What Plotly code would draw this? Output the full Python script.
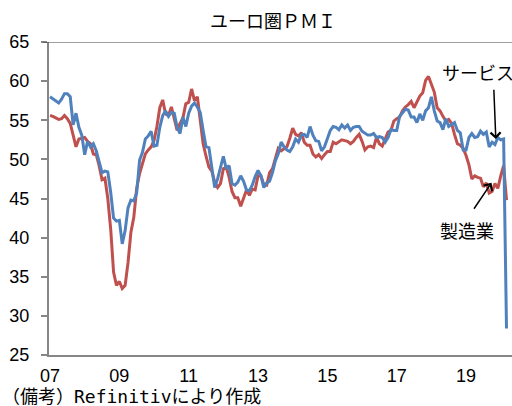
import plotly.graph_objects as go

# Monthly Euro area PMI, Jan 2007 - Mar 2020
manufacturing = [
    55.6, 55.5, 55.3, 55.1, 55.2, 55.6, 55.2, 54.6, 53.1, 51.6, 52.6, 52.7,  # 2007
    52.8, 52.3, 52.0, 50.7, 50.6, 49.2, 47.4, 47.6, 45.0, 41.1, 35.6, 33.9,  # 2008
    34.4, 33.5, 33.9, 36.8, 40.7, 42.6, 46.3, 48.2, 49.3, 50.7, 51.2, 51.6,  # 2009
    52.4, 54.2, 56.6, 57.6, 55.8, 55.6, 56.7, 55.1, 53.7, 54.6, 55.3, 57.1,  # 2010
    57.3, 59.0, 57.5, 58.0, 54.6, 52.0, 50.4, 49.0, 48.5, 47.1, 46.4, 46.9,  # 2011
    48.8, 49.0, 47.7, 45.9, 45.1, 45.1, 44.0, 45.1, 46.1, 45.4, 46.2, 46.1,  # 2012
    47.9, 47.9, 46.8, 46.7, 48.3, 48.8, 50.3, 51.4, 51.1, 51.3, 51.6, 52.7,  # 2013
    54.0, 53.2, 53.0, 53.4, 52.2, 51.8, 51.8, 50.7, 50.3, 50.6, 50.1, 50.6,  # 2014
    51.0, 51.0, 52.2, 52.0, 52.2, 52.5, 52.4, 52.3, 52.0, 52.3, 52.8, 53.2,  # 2015
    52.3, 51.2, 51.6, 51.7, 51.5, 52.8, 52.0, 51.7, 52.6, 53.5, 53.7, 54.9,  # 2016
    55.2, 55.4, 56.2, 56.7, 57.0, 57.4, 56.6, 57.4, 58.1, 58.5, 60.1, 60.6,  # 2017
    59.6, 58.6, 56.6, 56.2, 55.5, 54.9, 55.1, 54.6, 53.2, 52.0, 51.8, 51.4,  # 2018
    50.5, 49.3, 47.5, 47.9, 47.7, 47.6, 46.5, 47.0, 45.7, 45.9, 46.9, 46.3,  # 2019
    47.9, 49.2, 44.8,                                                        # 2020
]
services = [
    58.0, 57.7, 57.4, 57.2, 57.7, 58.4, 58.4, 58.0, 54.4, 55.9, 54.1, 53.1,  # 2007
    50.6, 52.3, 51.6, 52.0, 51.1, 49.5, 48.3, 48.5, 48.4, 45.8, 42.5, 42.1,  # 2008
    42.2, 39.2, 40.9, 43.8, 44.8, 44.7, 45.7, 49.9, 50.9, 52.6, 53.0, 53.6,  # 2009
    51.7, 51.8, 54.1, 55.6, 56.2, 55.5, 56.0, 55.9, 54.1, 53.3, 55.4, 54.2,  # 2010
    55.9, 56.8, 57.2, 56.7, 56.0, 53.7, 51.6, 51.5, 48.8, 46.4, 47.5, 48.8,  # 2011
    50.4, 48.8, 49.2, 46.9, 46.7, 47.1, 47.9, 47.2, 46.1, 46.0, 46.7, 47.8,  # 2012
    48.6, 47.9, 46.4, 47.0, 47.2, 48.3, 49.8, 50.7, 52.2, 51.6, 51.2, 51.0,  # 2013
    51.6, 52.6, 52.2, 53.1, 53.2, 52.8, 54.2, 53.1, 52.4, 52.3, 51.1, 51.6,  # 2014
    52.7, 53.7, 54.2, 54.1, 53.8, 54.4, 54.0, 54.4, 53.7, 54.1, 54.2, 54.2,  # 2015
    53.6, 53.3, 53.1, 53.1, 53.3, 52.8, 52.9, 52.8, 52.2, 52.8, 53.8, 53.7,  # 2016
    53.7, 55.5, 56.0, 56.4, 56.3, 55.4, 55.4, 54.7, 55.8, 55.0, 56.2, 56.6,  # 2017
    58.0, 56.2, 54.9, 54.7, 53.8, 55.2, 54.2, 54.4, 54.7, 53.7, 53.4, 51.2,  # 2018
    51.2, 52.8, 53.3, 52.8, 52.9, 53.6, 53.2, 53.5, 51.6, 52.2, 51.9, 52.8,  # 2019
    52.5, 52.6, 28.4,                                                        # 2020
]
month_index = list(range(len(manufacturing)))
tick_positions = [0, 24, 48, 72, 96, 120, 144]
tick_labels = ["07", "09", "11", "13", "15", "17", "19"]

AX = "#868686"
JP = "Noto Sans CJK JP"
NUM = "Liberation Sans, Arial, sans-serif"

fig = go.Figure()
fig.add_trace(go.Scatter(x=month_index, y=manufacturing, mode="lines",
                         line=dict(color="#C0504D", width=3), name="製造業"))
fig.add_trace(go.Scatter(x=month_index, y=services, mode="lines",
                         line=dict(color="#4F81BD", width=3), name="サービス"))

fig.update_layout(
    width=512, height=406,
    margin=dict(l=49, r=0, t=42, b=51),
    showlegend=False,
    plot_bgcolor="white", paper_bgcolor="white",
    xaxis=dict(range=[-0.35, 159.9], tickvals=tick_positions, ticktext=tick_labels,
               showline=True, linecolor=AX, linewidth=2, ticks="", showgrid=False,
               zeroline=False, tickfont=dict(family=NUM, size=18, color="black"),
               ticklabelstandoff=3),
    yaxis=dict(range=[25, 65], dtick=5, showline=True, linecolor=AX, linewidth=2,
               ticks="outside", ticklen=6, tickwidth=1.5, tickcolor=AX,
               showgrid=False, zeroline=False,
               tickfont=dict(family=NUM, size=18, color="black"),
               ticklabelstandoff=8),
    shapes=[dict(type="line", xref="paper", yref="y", x0=-0.013, x1=1, y0=65, y1=65,
                 line=dict(color="#404040", width=1))],
    annotations=[
        dict(text="ユーロ圏ＰＭＩ", xref="paper", yref="paper", x=0.484, y=1.07,
             yanchor="middle", showarrow=False,
             font=dict(family=JP, size=18, color="black")),
        dict(text="（備考）Refinitivにより作成", xref="paper", yref="paper",
             x=-0.106, y=-0.134, xanchor="left", yanchor="middle", showarrow=False,
             font=dict(family="DejaVu Sans Mono, " + JP, size=18, color="black")),
        dict(text="サービス", x=135.0, y=61.2, xanchor="left", yanchor="middle",
             showarrow=False, font=dict(family=JP, size=18, color="black")),
        dict(text="", x=154.3, y=52.6, ax=153.6, ay=59.1, axref="x", ayref="y",
             showarrow=True, arrowhead=4, arrowsize=1.3, arrowwidth=1.5,
             arrowcolor="black"),
        dict(text="製造業", x=144.3, y=41.0, xanchor="center", yanchor="middle",
             showarrow=False, font=dict(family=JP, size=18, color="black")),
        dict(text="", x=152.8, y=47.0, ax=146.4, ay=43.5, axref="x", ayref="y",
             showarrow=True, arrowhead=4, arrowsize=1.3, arrowwidth=1.5,
             arrowcolor="black"),
    ],
)

fig.write_html("out.html")
